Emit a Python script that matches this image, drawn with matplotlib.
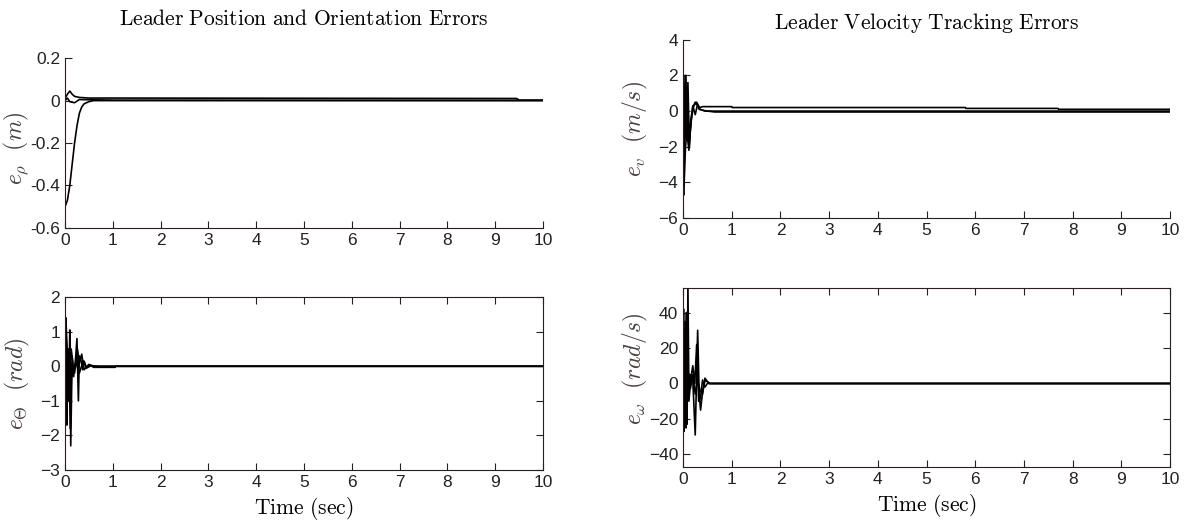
import matplotlib
matplotlib.use("Agg")
import matplotlib.pyplot as plt

plt.rcParams['mathtext.fontset'] = 'cm'
plt.rcParams['font.family'] = ['Liberation Sans Narrow', 'Liberation Sans', 'DejaVu Sans']

# ---- leader position error e_rho (m)
rho_t1 = [0, 0.05, 0.1, 0.15, 0.2, 0.25, 0.3, 0.35, 0.4, 0.5, 0.6, 1.0, 10]
rho_y1 = [-0.5, -0.47, -0.4, -0.3, -0.2, -0.12, -0.06, -0.03, -0.015, -0.005, 0, 0, 0]
rho_t2 = [0, 0.05, 0.1, 0.15, 0.2, 0.3, 0.5, 1.05, 9.45, 9.5, 10]
rho_y2 = [0.01, 0.03, 0.045, 0.03, 0.02, 0.015, 0.012, 0.012, 0.01, 0.002, 0.002]
rho_t3 = [0, 0.05, 0.1, 0.2, 0.3, 0.5, 1.05, 10]
rho_y3 = [0, 0.012, -0.005, -0.01, 0.005, 0.004, 0.002, 0.001]

# ---- leader velocity error e_v (m/s)
v_t1 = [0, 0.02, 0.04, 0.06, 0.08, 0.1, 0.12, 0.15, 0.2, 0.25, 0.3, 0.35, 0.4, 0.5,
        1.0, 1.01, 5.8, 5.81, 7.7, 7.71, 10]
v_y1 = [-4.5, -4.7, 2.0, 2.0, -1.5, 0.5, -2.0, -1.0, 0.2, 0.5, 0.3, 0.2, 0.25, 0.25,
        0.25, 0.2, 0.2, 0.15, 0.15, 0.1, 0.1]
v_t2 = [0, 0.03, 0.06, 0.1, 0.13, 0.16, 0.2, 0.25, 0.3, 0.35, 0.45, 0.6, 10]
v_y2 = [0, 1.5, -1.6, 1.6, -2.0, -0.5, 0.3, -0.2, 0.4, 0.1, 0, 0, 0]
v_t3 = [0, 0.02, 0.05, 0.08, 0.12, 0.17, 0.22, 0.28, 0.33, 0.4, 0.5, 0.65, 10]
v_y3 = [-4.0, -4.2, -2.0, -1.2, -2.2, -0.4, 0.3, 0.5, 0.1, 0.05, 0, -0.05, -0.05]

# ---- orientation error e_theta (rad)
th_t1 = [0, 0.02, 0.04, 0.06, 0.08, 0.1, 0.12, 0.15, 0.18, 0.22, 0.25, 0.28, 0.3,
         0.33, 0.37, 0.4, 0.45, 0.5, 0.6, 1.05, 1.06, 10]
th_y1 = [0, 1.4, -1.7, 0.5, -1.0, 1.05, -2.3, 0.3, -0.3, 0.2, 0.8, -1.0, 0.3,
         0.2, -0.1, 0.15, -0.05, 0.05, -0.03, -0.03, 0, 0]
th_t2 = [0, 0.03, 0.05, 0.08, 0.11, 0.14, 0.2, 0.26, 0.3, 0.35, 0.4, 0.5, 0.6, 10]
th_y2 = [0, 0.5, -1.0, 0.5, -1.8, 0.1, -0.2, 0.5, 0.1, 0.35, -0.1, 0.05, 0, 0]
th_t3 = [0, 0.02, 0.05, 0.09, 0.13, 0.18, 0.23, 0.3, 0.38, 0.45, 0.55, 0.7, 10]
th_y3 = [0, 1.3, 0.4, -0.3, 0.5, -0.1, 0.1, -0.2, 0.15, -0.05, 0.02, 0, 0]

# ---- angular velocity error e_omega (rad/s)
w_t1 = [0, 0.01, 0.02, 0.03, 0.04, 0.05, 0.06, 0.07, 0.08, 0.1, 0.12, 0.15, 0.2,
        0.25, 0.3, 0.33, 0.36, 0.4, 0.45, 0.5, 0.55, 0.6, 10]
w_y1 = [0, 42, -27, 30, -20, 25, -25, 40, -23, 55, -5, 5, 2,
        -29, 30, -5, -15, -5, 3, 1, 0, 0, 0]
w_t2 = [0, 0.02, 0.04, 0.06, 0.09, 0.12, 0.16, 0.2, 0.24, 0.28, 0.32, 0.36, 0.4,
        0.45, 0.5, 0.6, 10]
w_y2 = [0, -25, 35, -20, 20, -10, 3, 10, 0, 22, -10, -8, 2, -2, 0, 0, 0]
w_t3 = [0, 0.03, 0.07, 0.1, 0.15, 0.2, 0.25, 0.3, 0.35, 0.4, 0.45, 0.5, 0.55, 0.6, 10]
w_y3 = [0, 20, -15, 8, -3, 5, -6, 2, -4, -6, 2, 1, 0, 0, 0]

x_ticks = list(range(0, 11))


def style_axes(ax, boxed):
    ax.set_xlim(0, 10)
    ax.set_xticks(x_ticks)
    ax.tick_params(direction='in', labelsize=12.5, length=5, colors='#222222',
                   top=boxed, right=boxed)
    for sp in ax.spines.values():
        sp.set_color('#2a1f1f')
    if not boxed:
        ax.spines['top'].set_visible(False)
        ax.spines['right'].set_visible(False)


fig = plt.figure(figsize=(11.84, 5.24), dpi=100)

ax_rho = fig.add_axes([0.0549, 0.565, 0.4037, 0.324])
ax_v = fig.add_axes([0.5769, 0.584, 0.4113, 0.340])
ax_th = fig.add_axes([0.0549, 0.103, 0.4037, 0.330])
ax_w = fig.add_axes([0.5769, 0.109, 0.4113, 0.342])

for t, y in [(rho_t1, rho_y1), (rho_t2, rho_y2), (rho_t3, rho_y3)]:
    ax_rho.plot(t, y, color='black', linewidth=1.2)
ax_rho.set_ylim(-0.6, 0.2)
ax_rho.set_yticks([-0.6, -0.4, -0.2, 0, 0.2])
ax_rho.set_yticklabels(['-0.6', '-0.4', '-0.2', '0', '0.2'])
style_axes(ax_rho, False)
ax_rho.set_ylabel(r'$e_\rho\ \ (m)$', fontsize=17, color='#4a3f3f')
ax_rho.yaxis.set_label_coords(-0.073, 0.47)
ax_rho.set_title(r'$\mathrm{Leader\ Position\ and\ Orientation\ Errors}$', fontsize=15.5, pad=24)

for t, y in [(v_t1, v_y1), (v_t2, v_y2), (v_t3, v_y3)]:
    ax_v.plot(t, y, color='black', linewidth=1.2)
ax_v.set_ylim(-6, 4)
ax_v.set_yticks([-6, -4, -2, 0, 2, 4])
style_axes(ax_v, False)
ax_v.set_ylabel(r'$e_v\ \ (m/s)$', fontsize=17, color='#4a3f3f')
ax_v.yaxis.set_label_coords(-0.068, 0.5)
ax_v.set_title(r'$\mathrm{Leader\ Velocity\ Tracking\ Errors}$', fontsize=15.5, pad=8)

for t, y in [(th_t1, th_y1), (th_t2, th_y2), (th_t3, th_y3)]:
    ax_th.plot(t, y, color='black', linewidth=1.2)
ax_th.set_ylim(-3, 2)
ax_th.set_yticks([-3, -2, -1, 0, 1, 2])
style_axes(ax_th, True)
ax_th.set_ylabel(r'$e_\Theta\ \ (rad)$', fontsize=17, color='#4a3f3f')
ax_th.yaxis.set_label_coords(-0.07, 0.5)
ax_th.set_xlabel(r'$\mathrm{Time\ (sec)}$', fontsize=15.5)

for t, y in [(w_t1, w_y1), (w_t2, w_y2), (w_t3, w_y3)]:
    ax_w.plot(t, y, color='black', linewidth=1.2)
ax_w.set_ylim(-47, 54)
ax_w.set_yticks([-40, -20, 0, 20, 40])
style_axes(ax_w, True)
ax_w.set_ylabel(r'$e_\omega\ \ (rad/s)$', fontsize=17, color='#4a3f3f')
ax_w.yaxis.set_label_coords(-0.068, 0.55)
ax_w.set_xlabel(r'$\mathrm{Time\ (sec)}$', fontsize=15.5)

fig.savefig('out.png', dpi=100)
